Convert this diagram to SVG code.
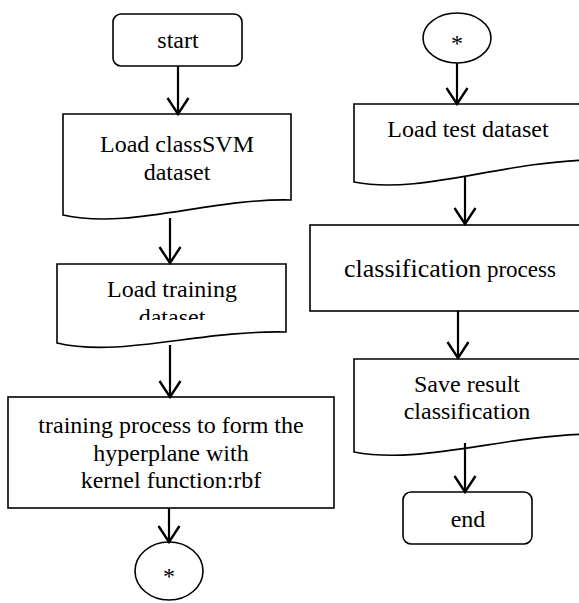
<svg xmlns="http://www.w3.org/2000/svg" width="579" height="603" viewBox="0 0 579 603">
<style>
.s{fill:#fff;stroke:#000;stroke-width:1.6}
text{font-family:'Liberation Serif','Times New Roman',Tinos,'DejaVu Serif',serif;font-size:24px;fill:#000;text-anchor:middle}
.c{fill:none;stroke:#000;stroke-width:2.2}
</style>
<defs>
<marker id="a" viewBox="-18 -12 20 24" refX="0" refY="0" markerWidth="20" markerHeight="24" markerUnits="userSpaceOnUse" orient="auto">
<path d="M-16,-10.5 L0,0 L-16,10.5" fill="none" stroke="#000" stroke-width="2.4"/>
</marker>
<clipPath id="clipTrain"><rect x="0" y="262" width="300" height="58"/></clipPath>
</defs>
<rect width="579" height="603" fill="#fff"/>
<g id="start">
<rect class="s" x="113" y="14" width="129" height="52" rx="8"/>
<text x="178" y="48">start</text>
</g>
<g id="loadClassSVM">
<path class="s" d="M63,114 L291,114 L291,200 C210,198 130,230 63,215 Z"/>
<text x="177" y="152">Load classSVM</text>
<text x="177" y="180">dataset</text>
</g>
<g id="loadTraining">
<path class="s" d="M57,264 L286,264 L286,332 C200,330 120,358 57,343 Z"/>
<g clip-path="url(#clipTrain)">
<text x="172" y="297">Load training</text>
<text x="172" y="325">dataset</text>
</g>
</g>
<g id="training">
<rect class="s" x="8" y="397" width="326" height="111"/>
<text x="171" y="433">training process to form the</text>
<text x="171" y="461">hyperplane with</text>
<text x="171" y="488">kernel function:rbf</text>
</g>
<g id="connA">
<ellipse class="s" cx="169" cy="571" rx="34" ry="29"/>
<text x="169" y="584">*</text>
</g>
<g id="connB">
<ellipse class="s" cx="457" cy="38" rx="34" ry="25"/>
<text x="457" y="51">*</text>
</g>
<g id="loadTest">
<path class="s" d="M354,104 L590,104 L590,160 C500,162 420,195 354,182 Z"/>
<text x="468" y="137">Load test dataset</text>
</g>
<g id="classification">
<rect class="s" x="310" y="225" width="280" height="86"/>
<text x="344" y="277" style="text-anchor:start"><tspan font-size="26" style="font-size:26px">classification</tspan><tspan style="font-size:23px"> process</tspan></text>
</g>
<g id="saveResult">
<path class="s" d="M354,359 L590,359 L590,434 C500,436 420,465 354,452 Z"/>
<text x="467" y="392">Save result</text>
<text x="467" y="419">classification</text>
</g>
<g id="end">
<rect class="s" x="403" y="492" width="129" height="52" rx="8"/>
<text x="468" y="527">end</text>
</g>
<g id="connectors">
<path class="c" d="M178,66 L178,114" marker-end="url(#a)"/>
<path class="c" d="M170,218 L170,263" marker-end="url(#a)"/>
<path class="c" d="M170,345 L170,397" marker-end="url(#a)"/>
<path class="c" d="M169,508 L169,542" marker-end="url(#a)"/>
<path class="c" d="M457,63 L457,104" marker-end="url(#a)"/>
<path class="c" d="M465,177 L465,224" marker-end="url(#a)"/>
<path class="c" d="M458,311 L458,358" marker-end="url(#a)"/>
<path class="c" d="M465,443 L465,492" marker-end="url(#a)"/>
</g>
</svg>
